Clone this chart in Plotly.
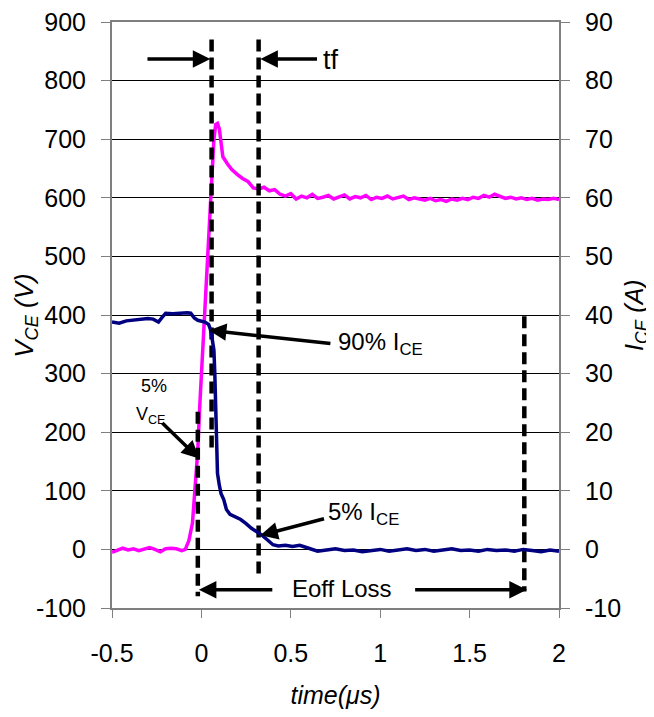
import plotly.graph_objects as go

# collector-emitter voltage (left axis), volts
t_v = [-0.5, -0.47, -0.44, -0.41, -0.38, -0.35, -0.32, -0.29, -0.26, -0.23, -0.2, -0.17,
       -0.14, -0.11, -0.09, -0.07, -0.05, -0.035, -0.02, -0.01, 0.0, 0.01, 0.02, 0.03,
       0.04, 0.05, 0.06, 0.07, 0.08, 0.09, 0.1, 0.11, 0.12, 0.145, 0.17, 0.2, 0.23, 0.26,
       0.29, 0.32, 0.35, 0.38, 0.41, 0.44, 0.47, 0.5, 0.53, 0.56, 0.59, 0.62, 0.65, 0.68,
       0.71, 0.74, 0.77, 0.8, 0.83, 0.86, 0.89, 0.92, 0.95, 0.98, 1.01, 1.04, 1.07, 1.1,
       1.13, 1.16, 1.19, 1.22, 1.25, 1.28, 1.31, 1.34, 1.37, 1.4, 1.43, 1.46, 1.49, 1.52,
       1.55, 1.58, 1.61, 1.64, 1.67, 1.7, 1.73, 1.76, 1.79, 1.82, 1.85, 1.88, 1.91, 1.94,
       1.97, 2.0]
v_ce = [-5, -2, 2, -1, 1, -2, 1, 3, 0, -4, 1, 2,
        1, -2, 0, 15, 45, 110, 170, 240, 300, 340, 400, 470,
        530, 590, 660, 700, 725, 727, 718, 695, 670, 658, 648, 640, 633, 628,
        617, 615, 618, 612, 614, 606, 603, 607, 598, 603, 600, 606, 599, 601,
        604, 598, 601, 605, 598, 602, 600, 604, 597, 601, 599, 603, 598, 601,
        603, 597, 600, 598, 596, 599, 595, 597, 594, 598, 596, 599, 597, 601,
        599, 604, 601, 606, 602, 599, 601, 598, 600, 597, 599, 596, 598, 597,
        599, 597]

# collector-emitter current (right axis), amps
t_i = [-0.5, -0.46, -0.42, -0.38, -0.34, -0.3, -0.27, -0.24, -0.22, -0.2, -0.16, -0.12,
       -0.08, -0.06, -0.04, -0.02, 0.0, 0.02, 0.04, 0.05, 0.06, 0.07, 0.075, 0.08, 0.085,
       0.09, 0.1, 0.11, 0.125, 0.14, 0.16, 0.19, 0.22, 0.25, 0.28, 0.31, 0.34, 0.37, 0.4,
       0.43, 0.47, 0.51, 0.55, 0.6, 0.65, 0.7, 0.75, 0.8, 0.85, 0.9, 0.95, 1.0, 1.05, 1.1,
       1.15, 1.2, 1.25, 1.3, 1.35, 1.4, 1.45, 1.5, 1.55, 1.6, 1.65, 1.7, 1.75, 1.8, 1.85,
       1.9, 1.95, 2.0]
i_ce = [38.8, 38.6, 39.0, 39.1, 39.2, 39.4, 39.3, 38.8, 39.6, 40.3, 40.2, 40.3,
        40.4, 40.3, 39.5, 39.1, 38.9, 38.8, 38.4, 37.6, 36.0, 34.0, 30.0, 24.0, 18.0,
        13.0, 11.0, 9.5, 8.5, 6.8, 6.0, 5.6, 5.1, 4.4, 3.6, 3.0, 2.4, 1.6, 0.8,
        0.6, 0.7, 0.5, 0.7, 0.2, -0.3, -0.1, 0.1, -0.2, -0.1, -0.4, -0.2, 0.0, -0.3, -0.1,
        0.1, -0.2, 0.0, -0.3, -0.1, 0.1, -0.2, -0.1, -0.3, 0.0, -0.2, -0.1, -0.3, 0.0, -0.2,
        -0.4, -0.1, -0.3]

x_ticks = [-0.5, 0, 0.5, 1, 1.5, 2]
x_labels = ["-0.5", "0", "0.5", "1", "1.5", "2"]
v_ticks = list(range(-100, 901, 100))
v_labels = [str(v) for v in v_ticks]
i_ticks = list(range(-10, 91, 10))
i_labels = [str(v) for v in i_ticks]

# dashed markers: (time, V from, V to)
markers = [(0.057, 870, 165), (0.32, 870, -42), (-0.02, 235, -80), (1.806, 398, -72)]

FONT = "Arial, Liberation Sans, sans-serif"
AXIS_GRAY = "#7f7f7f"

fig = go.Figure()
fig.add_trace(go.Scatter(x=t_v, y=v_ce, mode="lines", name="VCE",
                         line=dict(color="#ff00ff", width=3.5)))
fig.add_trace(go.Scatter(x=t_i, y=i_ce, mode="lines", name="ICE", yaxis="y2",
                         line=dict(color="#000080", width=3.5)))

for t, y0, y1 in markers:
    fig.add_trace(go.Scatter(x=[t, t], y=[y0, y1], mode="lines", showlegend=False,
                             line=dict(color="black", width=4.5, dash="12px,6px")))


def arrow(x, y, ax, ay):
    fig.add_annotation(x=x, y=y, ax=ax, ay=ay, xref="x", yref="y", axref="x", ayref="y",
                       text="", showarrow=True, arrowhead=2, arrowsize=1,
                       arrowwidth=3.5, arrowcolor="black")


def label(x, y, text, size=24, xanchor="left"):
    fig.add_annotation(x=x, y=y, xref="x", yref="y", text=text, showarrow=False,
                       xanchor=xanchor, yanchor="middle",
                       font=dict(family=FONT, size=size, color="black"))


arrow(0.05, 837, -0.31, 837)
arrow(0.33, 837, 0.655, 837)
label(0.67, 835, "tf", size=27)

arrow(0.042, 374, 0.73, 351)
label(0.755, 352, "90% I<sub>CE</sub>")

arrow(0.33, 24, 0.694, 53)
label(0.695, 62, "5% I<sub>CE</sub>")

arrow(-0.013, 155, -0.227, 218)
label(-0.265, 279, "5%", size=18, xanchor="center")
label(-0.28, 229, "V<sub>CE</sub>", size=18, xanchor="center")

arrow(-0.014, -69, 0.405, -69)
arrow(1.82, -69, 1.187, -69)
label(0.785, -67, "Eoff Loss", xanchor="center")

# y titles as rotated paper annotations so they sit exactly where the reference has them
fig.add_annotation(x=-0.195, y=0.5, xref="paper", yref="paper", text="<i>V<sub>CE</sub> (V)</i>",
                   textangle=-90, showarrow=False, xanchor="center", yanchor="middle",
                   font=dict(family=FONT, size=26, color="black"))
fig.add_annotation(x=1.172, y=0.5, xref="paper", yref="paper", text="<i>I<sub>CE</sub> (A)</i>",
                   textangle=-90, showarrow=False, xanchor="center", yanchor="middle",
                   font=dict(family=FONT, size=25, color="black"))

# the page body adds an 8px margin all round; keep the page free of scrollbars
fig.update_layout(
    width=646, height=701,
    margin=dict(l=104, r=95, t=14, b=101),
    paper_bgcolor="white", plot_bgcolor="white",
    showlegend=False,
    font=dict(family=FONT, size=25, color="black"),
    xaxis=dict(range=[-0.5, 2], tickvals=x_ticks, ticktext=x_labels, automargin=False,
               ticks="outside", ticklen=8, tickcolor=AXIS_GRAY, ticklabelstandoff=14,
               ticklabeloverflow="allow",
               showline=True, linecolor=AXIS_GRAY, linewidth=2, mirror=True,
               showgrid=False, zeroline=False,
               title=dict(text="<i>time(μs)</i>", standoff=20, font=dict(size=25))),
    yaxis=dict(range=[-100, 900], tickvals=v_ticks, ticktext=v_labels, automargin=False,
               ticks="outside", ticklen=9, tickcolor=AXIS_GRAY, ticklabelstandoff=10,
               ticklabeloverflow="allow",
               showline=True, linecolor=AXIS_GRAY, linewidth=2,
               showgrid=True, gridcolor="black", gridwidth=1, zeroline=False),
    yaxis2=dict(range=[-10, 90], tickvals=i_ticks, ticktext=i_labels, overlaying="y",
                side="right", ticks="outside", ticklen=9, tickcolor=AXIS_GRAY, automargin=False,
                ticklabelstandoff=10, ticklabeloverflow="allow",
                showline=True, linecolor=AXIS_GRAY, linewidth=2,
                showgrid=False, zeroline=False),
)

fig.write_html("out.html")
